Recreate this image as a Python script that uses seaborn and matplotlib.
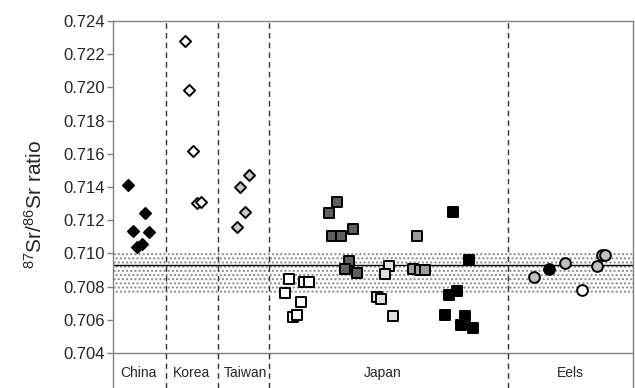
import matplotlib
matplotlib.use('Agg')
import matplotlib.pyplot as plt
import pandas as pd
import seaborn as sns

sns.set_style('white')
plt.rcParams['font.family'] = ['Liberation Sans', 'DejaVu Sans']
plt.rcParams['mathtext.fontset'] = 'custom'
plt.rcParams['mathtext.rm'] = 'Liberation Sans'
plt.rcParams['hatch.color'] = '#8a8a8a'

# x position inside the panel (0..520), 87Sr/86Sr ratio
china_x = [15, 32, 20, 36, 24, 29]
china_y = [0.71412, 0.71245, 0.71137, 0.71129, 0.71037, 0.71057]
korea_x = [72, 76, 80, 84, 88]
korea_y = [0.72280, 0.71984, 0.71619, 0.71302, 0.71310]
taiwan_x = [136, 127, 132, 124]
taiwan_y = [0.71472, 0.71402, 0.71249, 0.71157]

jp_white_x = [176, 172, 191, 196, 188, 180, 184]
jp_white_y = [0.70844, 0.70760, 0.70828, 0.70828, 0.70709, 0.70615, 0.70627]
jp_dark_x = [224, 216, 219, 228, 240, 236, 232, 244]
jp_dark_y = [0.71308, 0.71245, 0.71107, 0.71107, 0.71145, 0.70956, 0.70908, 0.70880]
jp_light_x = [276, 272, 264, 268, 280]
jp_light_y = [0.70924, 0.70874, 0.70739, 0.70724, 0.70625]
jp_mid_x = [304, 300, 307, 312]
jp_mid_y = [0.71107, 0.70904, 0.70900, 0.70900]
jp_black_x = [340, 356, 344, 336, 332, 352, 348, 360]
jp_black_y = [0.71251, 0.70958, 0.70775, 0.70751, 0.70627, 0.70623, 0.70571, 0.70551]

eel_gray_x = [421, 452, 484, 489, 492]
eel_gray_y = [0.70856, 0.70940, 0.70924, 0.70992, 0.70992]
eel_black_x = [436]
eel_black_y = [0.70904]
eel_white_x = [469]
eel_white_y = [0.70778]

regions = ['China', 'Korea', 'Taiwan', 'Japan', 'Eels']
region_centres = [25, 79, 132, 270, 457]
dividers = [53, 105, 156, 395]
seawater = 0.70928
band = (0.70760, 0.71016)

groups = [
    (china_x, china_y, 'D', 'black', 32),
    (korea_x, korea_y, 'D', 'white', 32),
    (taiwan_x, taiwan_y, 'D', '#c8c8c8', 32),
    (jp_white_x, jp_white_y, 's', 'white', 62),
    (jp_dark_x, jp_dark_y, 's', '#5f5f5f', 62),
    (jp_light_x, jp_light_y, 's', '#e0e0e0', 62),
    (jp_mid_x, jp_mid_y, 's', '#9c9c9c', 62),
    (jp_black_x, jp_black_y, 's', 'black', 62),
    (eel_gray_x, eel_gray_y, 'o', '#c0c0c0', 60),
    (eel_black_x, eel_black_y, 'o', 'black', 60),
    (eel_white_x, eel_white_y, 'o', 'white', 60),
]

fig = plt.figure(figsize=(6.35, 3.88), dpi=100)
ax = fig.add_axes([113 / 635, 0, 520 / 635, 367 / 388])

ax.axhspan(*band, facecolor='none', edgecolor='#8a8a8a', hatch='....', linewidth=0, zorder=0)
ax.axhline(seawater, color='black', linewidth=1, zorder=1)
ax.axhline(0.704, color='#808080', linewidth=1, zorder=1)
for d in dividers:
    ax.axvline(d, color='#333333', linestyle=(0, (4, 3)), linewidth=1, zorder=1)

for xs, ys, marker, face, size in groups:
    df = pd.DataFrame({'x': xs, 'ratio': ys})
    sns.scatterplot(data=df, x='x', y='ratio', marker=marker, color=face,
                    edgecolor='black', linewidth=1.4, s=size, ax=ax, zorder=3)

for name, cx in zip(regions, region_centres):
    ax.text(cx, 0.70281, name, ha='center', va='center', fontsize=10)

ax.set_xlim(0, 520)
ax.set_ylim(0.701892, 0.724)
ax.set_yticks([0.704 + 0.002 * i for i in range(11)])
ax.set_yticklabels([f'{0.704 + 0.002 * i:.3f}' for i in range(11)], fontsize=12)
ax.set_xticks([])
ax.set_xlabel('')
ax.set_ylabel(r'$\mathregular{^{87}}$Sr/$\mathregular{^{86}}$Sr ratio', fontsize=15, labelpad=12)
ax.tick_params(axis='y', direction='out', length=4, width=1, color='#808080', pad=2, left=True)
for side in ['left', 'right', 'top']:
    ax.spines[side].set_color('#808080')
    ax.spines[side].set_linewidth(1)
ax.spines['bottom'].set_visible(False)

fig.savefig('out.png', dpi=100)
